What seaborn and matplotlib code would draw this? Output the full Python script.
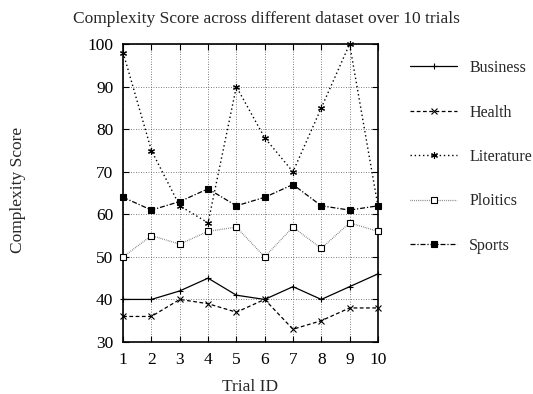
import numpy as np
import pandas as pd
import matplotlib
matplotlib.use('Agg')
import matplotlib.pyplot as plt
import seaborn as sns

# DATA
trials = list(range(1, 11))
business = [40, 40, 42, 45, 41, 40, 43, 40, 43, 46]
health = [36, 36, 40, 39, 37, 40, 33, 35, 38, 38]
literature = [98, 75, 62, 58, 90, 78, 70, 85, 100, 62]
politics = [50, 55, 53, 56, 57, 50, 57, 52, 58, 56]
sports = [64, 61, 63, 66, 62, 64, 67, 62, 61, 62]
names = ['Business', 'Health', 'Literature', 'Ploitics', 'Sports']

data = pd.DataFrame({
    'trial': trials * 5,
    'score': business + health + literature + politics + sports,
    'dataset': np.repeat(names, len(trials)),
})

sns.set_style('ticks')
plt.rcParams['font.family'] = ['Liberation Serif', 'DejaVu Serif']
FS = 12.5

styles = {
    'Business': dict(ls='-', marker='+', ms=5, mfc='black', color='black', lw=0.9),
    'Health': dict(ls=(0, (3, 2)), marker='x', ms=4, mfc='black', color='black', lw=0.9),
    'Literature': dict(ls=(0, (1, 2)), marker=(6, 2, 0), ms=5, mfc='black', color='black', lw=1.0),
    'Ploitics': dict(ls=(0, (0.5, 1)), marker='s', ms=5, mfc='white', color='#555555', lw=0.9),
    'Sports': dict(ls=(0, (4, 1.5, 1, 1.5)), marker='s', ms=5, mfc='black', color='black', lw=0.9),
}

fig = plt.figure(figsize=(5.33, 3.94), dpi=100)
ax = fig.add_axes([0.231, 0.132, 0.478, 0.756])

for name in names:
    st = styles[name]
    sns.lineplot(
        data=data[data['dataset'] == name],
        x='trial',
        y='score',
        ax=ax,
        label=name,
        color=st['color'],
        linestyle=st['ls'],
        linewidth=st['lw'],
        marker=st['marker'],
        markersize=st['ms'],
        markerfacecolor=st['mfc'],
        markeredgecolor='black',
        markeredgewidth=0.8,
        clip_on=False,
        zorder=3,
    )

ax.set_xlim(1, 10)
ax.set_ylim(30, 100)
ax.set_xticks(trials)
ax.set_yticks(range(30, 101, 10))
ax.grid(True, color='#555555', linestyle=(0, (1, 2)), linewidth=0.6)
ax.tick_params(direction='in', length=4, top=True, right=True, labelsize=FS, pad=7,
               color='black', labelcolor='black')
for s in ax.spines.values():
    s.set_color('black')
    s.set_linewidth(1.2)

ax.set_xlabel('Trial ID', fontsize=FS, labelpad=8)
ax.set_ylabel('')
fig.text(0.034, 0.518, 'Complexity Score', rotation=90, fontsize=FS, ha='center', va='center')
fig.text(0.5, 0.952, 'Complexity Score across different dataset over 10 trials', fontsize=FS,
         ha='center', va='center')

handles, labels = ax.get_legend_handles_labels()
ax.legend_.remove()
fig.legend(handles, labels, loc='upper left', bbox_to_anchor=(0.743, 0.884),
           frameon=False, fontsize=11.5, labelspacing=1.78, handlelength=2.94, handletextpad=0.75)

fig.savefig('out.png', dpi=100)
